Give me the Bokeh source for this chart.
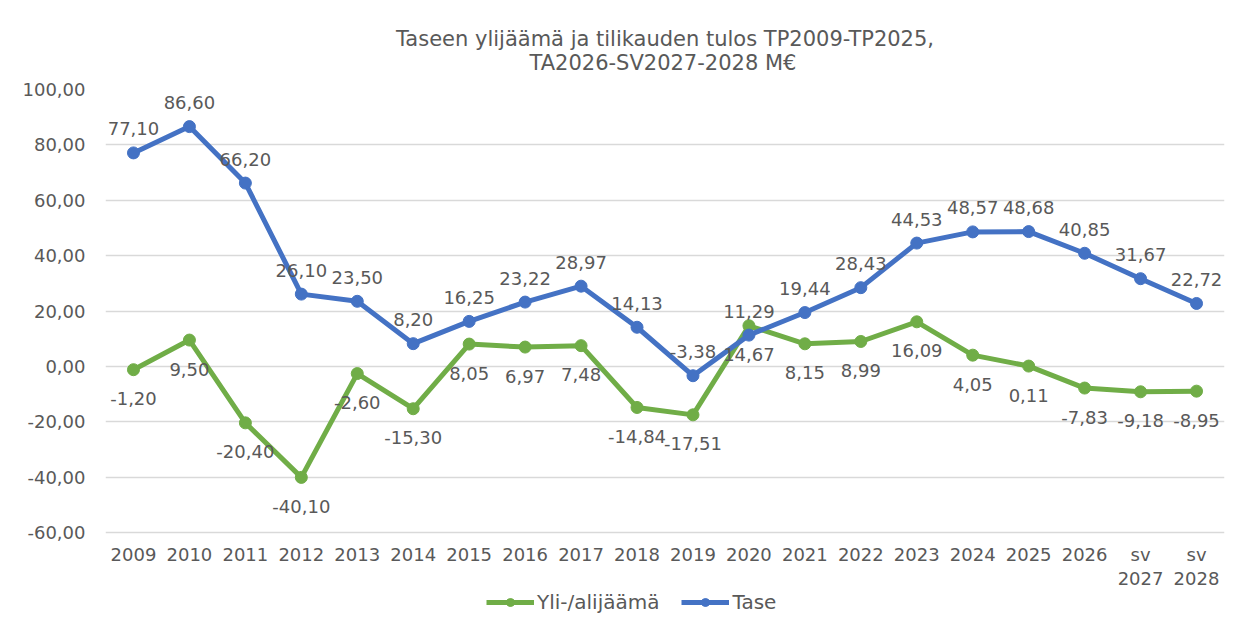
from bokeh.plotting import figure
from bokeh.models import (Range1d, FixedTicker, Legend, LegendItem, Title, ColumnDataSource,
                          LinearAxis)
from bokeh.embed import file_html
from bokeh.resources import INLINE
from bokeh.core.properties import value

categories = ["2009", "2010", "2011", "2012", "2013", "2014", "2015", "2016", "2017",
              "2018", "2019", "2020", "2021", "2022", "2023", "2024", "2025", "2026",
              "sv\n2027", "sv\n2028"]
tase = [77.10, 86.60, 66.20, 26.10, 23.50, 8.20, 16.25, 23.22, 28.97, 14.13,
        -3.38, 11.29, 19.44, 28.43, 44.53, 48.57, 48.68, 40.85, 31.67, 22.72]
yli = [-1.20, 9.50, -20.40, -40.10, -2.60, -15.30, 8.05, 6.97, 7.48, -14.84,
       -17.51, 14.67, 8.15, 8.99, 16.09, 4.05, 0.11, -7.83, -9.18, -8.95]
y_ticks = [-60, -40, -20, 0, 20, 40, 60, 80, 100]
title_line1 = "Taseen ylijäämä ja tilikauden tulos TP2009-TP2025,"
title_line2 = "TA2026-SV2027-2028 M€"

FONT = "DejaVu Sans"
GRAY = "#595959"
BLUE = "#4472C4"
GREEN = "#70AD47"

def fmt(v):
    return f"{v:.2f}".replace(".", ",")

xs = list(range(len(categories)))
src = ColumnDataSource(dict(x=xs, tase=tase, yli=yli,
                            tase_lbl=[fmt(v) for v in tase],
                            yli_lbl=[fmt(v) for v in yli]))

# plot area: the gridded part (-60..100) is 443 px tall; the frame is extended
# downward so that the category labels and the legend sit inside it
GRID_PX = 443
FRAME_PX = 530
y_top = max(y_ticks)
y_bottom = y_top - (y_top - min(y_ticks)) * FRAME_PX / GRID_PX

p = figure(frame_width=1119, frame_height=FRAME_PX, output_backend="svg",
           toolbar_location=None, x_axis_location=None,
           x_range=Range1d(-0.5, len(categories) - 0.5),
           y_range=Range1d(y_bottom, y_top),
           min_border_left=105, min_border_right=31, min_border_top=89, min_border_bottom=0)
p.outline_line_color = None
p.background_fill_color = "white"
p.border_fill_color = "white"

# second line is indented with no-break spaces so that both lines appear centred
title_text = title_line1 + "\n" + "\u00a0" * 20 + title_line2
p.add_layout(Title(text=title_text, align="center", text_font=FONT,
                   text_font_size="21px", text_color=GRAY, text_font_style="normal",
                   text_line_height=1.03, standoff=28), "above")

# category axis drawn at the bottom gridline
xaxis = LinearAxis(ticker=FixedTicker(ticks=xs), fixed_location=min(y_ticks))
xaxis.major_label_overrides = {i: c for i, c in enumerate(categories)}
p.add_layout(xaxis, "below")

p.yaxis.ticker = FixedTicker(ticks=y_ticks)
p.yaxis.major_label_overrides = {t: fmt(t) for t in y_ticks}
for ax in (xaxis, p.yaxis[0]):
    ax.axis_line_color = None
    ax.major_tick_line_color = None
    ax.minor_tick_line_color = None
    ax.major_label_text_font = FONT
    ax.major_label_text_font_size = "18px"
    ax.major_label_text_color = GRAY
xaxis.major_label_text_line_height = 1.15
xaxis.major_label_standoff = 5
p.yaxis.major_label_standoff = 14
p.xgrid.visible = False
p.xgrid.grid_line_color = None
p.ygrid.grid_line_color = "#d9d9d9"
p.ygrid.grid_line_width = 1.5

g_line = p.line("x", "yli", source=src, line_color=GREEN, line_width=5, line_join="round")
g_pts = p.scatter("x", "yli", source=src, size=12, fill_color=GREEN, line_color=GREEN)
b_line = p.line("x", "tase", source=src, line_color=BLUE, line_width=5, line_join="round")
b_pts = p.scatter("x", "tase", source=src, size=12, fill_color=BLUE, line_color=BLUE)

p.text("x", "yli", text="yli_lbl", source=src, text_font=value(FONT), text_font_size="18px",
       text_color=GRAY, text_align="center", text_baseline="middle", y_offset=29)
p.text("x", "tase", text="tase_lbl", source=src, text_font=value(FONT), text_font_size="18px",
       text_color=GRAY, text_align="center", text_baseline="middle", y_offset=-24)

legend = Legend(items=[LegendItem(label="Yli-/alijäämä", renderers=[g_line, g_pts]),
                       LegendItem(label="Tase", renderers=[b_line, b_pts])],
                orientation="horizontal", location=(381, 5),
                label_text_font=FONT, label_text_font_size="20px", label_text_color=GRAY,
                glyph_width=48, glyph_height=20, label_height=20, spacing=22,
                label_standoff=3, padding=1, margin=0,
                border_line_color=None, background_fill_alpha=0)
p.add_layout(legend, "center")

open("out.html", "w").write(file_html(p, INLINE))
